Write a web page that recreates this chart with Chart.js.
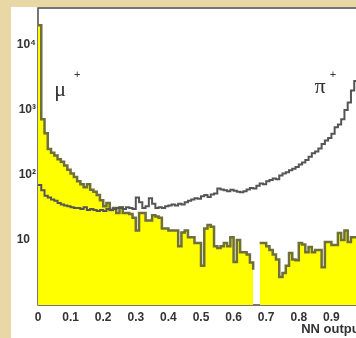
<!DOCTYPE html>
<html>
<head>
<meta charset="utf-8">
<script src="https://cdn.jsdelivr.net/npm/chart.js@4.4.0/dist/chart.umd.min.js"></script>
<style>
  html, body { margin: 0; padding: 0; width: 356px; height: 338px; overflow: hidden; background: #ead7a6; }
  #panel { position: absolute; left: 11px; top: 7px; width: 360px; height: 331px; background: #fff; }
</style>
</head>
<body>
<div id="panel"><canvas id="nnChart" width="360" height="331"></canvas></div>
<script>
// histogram binning: 100 bins on 0..1
const nBins = 100;
const xMin = 0, xMax = 1;

// muon sample (yellow, filled)
const muCounts = [
  20000, 720, 440, 250, 220, 200, 175, 160, 140, 120,
  105, 93, 80, 72, 65, 72, 59, 55, 49, 41,
  33, 37, 29, 31, 26, 32, 26, 26, 25, 22,
  14, 26, 26, 20, 20, 24, 23, 22, 15, 15,
  14, 14, 14, 8, 13, 14, 11, 11, 9, 9,
  4, 15, 17, 16, 8, 7.5, 8, 9, 8, 11,
  4.6, 10, 6.5, 6.5, 6, 4.5, 3.5, 0, 9, 9,
  8, 7, 6, 5, 2.7, 3.1, 4, 6.3, 5, 4.9,
  9, 8.5, 6.5, 7.8, 6.5, 7, 7, 3.8, 9.3, 9.3,
  8.4, 8.4, 12.8, 10, 14, 9.3, 11, 11, 12, 12
];

// pion sample (outline only)
const piCounts = [
  70, 58, 48, 45, 42, 40, 37, 35, 34, 33,
  32, 31, 31, 30, 32, 29, 30, 29, 28, 29,
  28, 30, 29, 30, 31, 31, 30, 32, 31, 30,
  45, 38, 31, 33, 44, 36, 31, 32, 31, 33,
  34, 35, 34, 36, 35, 38, 40, 42, 44, 43,
  47, 49, 46, 50, 52, 62, 60, 58, 56, 59,
  57, 55, 54, 56, 60, 63, 62, 68, 74, 72,
  80, 84, 88, 86, 98, 105, 110, 118, 125, 133,
  145, 155, 170, 190, 215, 230, 255, 300, 340, 370,
  430, 540, 600, 720, 1000, 1300, 2000, 2800, 5000, 10000
];

const xTickValues = [0, 0.1, 0.2, 0.3, 0.4, 0.5, 0.6, 0.7, 0.8, 0.9, 1];
const xTickLabels = ['0', '0.1', '0.2', '0.3', '0.4', '0.5', '0.6', '0.7', '0.8', '0.9', '1'];
const yTickValues = [10, 100, 1000, 10000];
const yTickLabels = ['10\u2002', '10²', '10³', '10⁴'];

// step points: each bin value holds from its low edge to the next edge
function toSteps(counts) {
  const w = (xMax - xMin) / nBins;
  const pts = counts.map((c, i) => ({ x: xMin + i * w, y: c }));
  pts.push({ x: xMax, y: counts[counts.length - 1] });
  return pts;
}

const tickFont = { family: "'Liberation Sans', Arial, sans-serif", size: 12, weight: 'bold' };

// frame, inner tick marks and the particle labels
const frameAndLabels = {
  id: 'frameAndLabels',
  beforeDatasetsDraw(chart) {
    const { ctx, chartArea: a, scales: { x, y } } = chart;
    ctx.save();
    ctx.strokeStyle = '#4a4a4a';
    ctx.lineWidth = 1.5;
    ctx.strokeRect(a.left, a.top, a.right - a.left, a.bottom - a.top);
    ctx.lineWidth = 1;
    ctx.strokeStyle = '#888';
    xTickValues.forEach(v => {
      const px = x.getPixelForValue(v);
      ctx.beginPath();
      ctx.moveTo(px, a.bottom);
      ctx.lineTo(px, a.bottom - 4);
      ctx.stroke();
    });
    ctx.fillStyle = '#333';
    ctx.textBaseline = 'middle';
    ctx.textAlign = 'center';
    ctx.font = "22px 'Liberation Serif', serif";
    ctx.fillText('μ', x.getPixelForValue(0.068), y.getPixelForValue(2000));
    ctx.fillText('π', x.getPixelForValue(0.865), y.getPixelForValue(2250));
    ctx.font = "11px 'Liberation Sans', sans-serif";
    ctx.fillText('+', x.getPixelForValue(0.12), y.getPixelForValue(3500));
    ctx.fillText('+', x.getPixelForValue(0.905), y.getPixelForValue(3500));
    ctx.restore();
  }
};

const ctx = document.getElementById('nnChart').getContext('2d');
new Chart(ctx, {
  type: 'line',
  data: {
    datasets: [{
      label: 'pi+',
      data: toSteps(piCounts),
      stepped: true,
      borderColor: '#555',
      borderWidth: 2,
      pointRadius: 0,
      fill: false,
      order: 0
    }, {
      label: 'mu+',
      data: toSteps(muCounts),
      stepped: true,
      borderColor: '#6f6f3a',
      borderWidth: 2.5,
      backgroundColor: '#ffff00',
      pointRadius: 0,
      fill: 'start',
      order: 1
    }]
  },
  options: {
    responsive: false,
    animation: false,
    layout: { padding: { left: 0, right: 7, top: 1, bottom: 0 } },
    plugins: { legend: { display: false }, tooltip: { enabled: false } },
    scales: {
      x: {
        type: 'linear',
        min: xMin,
        max: xMax,
        grid: { display: false, drawTicks: false },
        border: { display: false },
        afterBuildTicks: s => { s.ticks = xTickValues.map(v => ({ value: v })); },
        afterFit: s => { s.height = 33; s.paddingLeft = 0; s.paddingRight = 0; },
        ticks: {
          color: '#333',
          font: tickFont,
          padding: 5,
          maxRotation: 0,
          autoSkip: false,
          callback: (v, i) => xTickLabels[i]
        },
        title: {
          display: true,
          text: 'NN output',
          align: 'end',
          color: '#333',
          font: { family: "'Liberation Sans', Arial, sans-serif", size: 13, weight: 'bold' },
          padding: { top: 0, bottom: 1 }
        }
      },
      y: {
        type: 'logarithmic',
        min: 1,
        max: 37000,
        grid: { display: false, drawTicks: false },
        border: { display: false },
        afterBuildTicks: s => { s.ticks = yTickValues.map(v => ({ value: v })); },
        afterFit: s => { s.width = 27; s.paddingTop = 0; s.paddingBottom = 0; },
        ticks: {
          color: '#333',
          font: tickFont,
          padding: 2,
          callback: (v, i) => yTickLabels[i]
        }
      }
    }
  },
  plugins: [frameAndLabels]
});
</script>
</body>
</html>
